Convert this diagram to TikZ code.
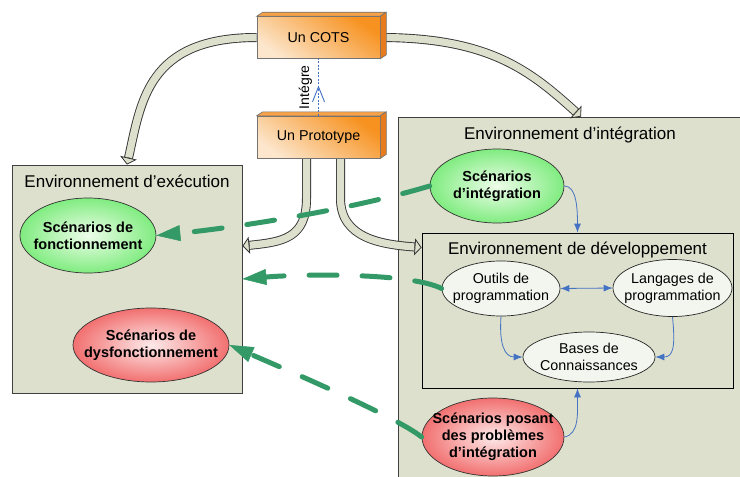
\documentclass[tikz,border=0pt]{standalone}
\usepackage{fontspec}
\setmainfont{Liberation Sans}
\usetikzlibrary{shapes.geometric,arrows.meta,positioning,backgrounds,decorations.markings}

\definecolor{envfill}{RGB}{221,224,204}
\definecolor{linkblue}{RGB}{68,114,196}
\definecolor{dashgreen}{RGB}{51,153,102}
\definecolor{greenedge}{RGB}{128,236,128}
\definecolor{greencentre}{RGB}{238,253,234}
\definecolor{rededge}{RGB}{242,112,112}
\definecolor{redcentre}{RGB}{253,234,234}
\definecolor{palefill}{RGB}{243,246,238}
\definecolor{orangedeep}{RGB}{247,146,32}
\definecolor{orangepale}{RGB}{252,230,204}
\definecolor{orangetop}{RGB}{248,162,72}
\definecolor{orangeside}{RGB}{230,124,30}

\tikzset{
  envbox/.style={draw=black!75, fill=envfill, line width=0.8pt},
  envtitle/.style={font=\fontsize{17}{20}\selectfont, inner sep=0pt},
  compbox/.style={draw=black!55, line width=0.6pt, bottom color=orangepale, top color=orangedeep,
    shading angle=-35, minimum width=123pt, minimum height=42pt, font=\fontsize{14.3}{17}\selectfont},
  scentext/.style={align=center, inner sep=0pt, font=\bfseries\fontsize{14.5}{17}\selectfont},
  tooltext/.style={align=center, inner sep=0pt, font=\fontsize{14.3}{17}\selectfont},
  goodscen/.style={ellipse, draw=black!80, line width=0.7pt, inner color=greencentre, outer color=greenedge},
  badscen/.style={ellipse, draw=black!80, line width=0.7pt, inner color=redcentre, outer color=rededge},
  tool/.style={ellipse, draw=black!85, line width=0.7pt, fill=palefill},
  blockarrow/.style={draw=black!80, line width=9pt,
    -{Triangle[length=7pt,width=17pt,line width=0.8pt,fill=envfill]},
    postaction={draw=envfill, line width=7.2pt, -, shorten >=7.4pt}},
  feedback/.style={dashgreen, line width=5pt, line cap=round, dash pattern=on 28pt off 25pt,
    -{Triangle[length=24pt,width=16pt,line width=0.5pt]}},
  link/.style={linkblue, line width=0.8pt, >={Latex[length=9pt,width=7pt]}, ->},
  intarrow/.style={linkblue, line width=1pt, dash pattern=on 2pt off 1.5pt,
    postaction={decorate}, decoration={markings,
      mark=at position 0.53 with {\arrow[solid]{Straight Barb[length=15pt,width=12pt,line width=0.9pt]}}}}
}

\begin{document}
\begin{tikzpicture}[x=1pt,y=-1pt]
\useasboundingbox (0,0) rectangle (740,477);

% les environnements
\begin{scope}[on background layer]
  \node[envbox, minimum width=230pt, minimum height=228pt] (exec) at (127,279) {};
  \node[envbox, minimum width=344pt, minimum height=363pt] (integ) at (570,298.5) {};
  \node[envbox, draw=black, minimum width=311pt, minimum height=155pt] (dev) at (577.5,310.5) {};
\end{scope}
\node[envtitle, below=10pt of exec.north] (exectitle) {Environnement d’exécution};
\node[envtitle, below=10pt of integ.north] (integtitle) {Environnement d’intégration};
\node[envtitle, below=9pt of dev.north] (devtitle) {Environnement de développement};

% COTS et prototype
\node[compbox] (cots) at (318.5,37.5) {Un COTS};
\node[compbox, below=57pt of cots] (proto) {Un Prototype};
\foreach \b in {cots,proto}{
  \filldraw[draw=black!55, line width=0.6pt, fill=orangetop] (\b.north west) -- ++(6,-4) -- ++(123,0) -- (\b.north east) -- cycle;
  \filldraw[draw=black!55, line width=0.6pt, fill=orangeside] (\b.north east) -- ++(6,-4) -- ++(0,42.6) -- (\b.south east) -- cycle;
}

% scenarios
\node[goodscen, minimum width=136pt, minimum height=75pt,
  label={[scentext]center:Scénarios de\\fonctionnement}] (fonc) at (88,235.5) {};
\node[badscen, minimum width=156pt, minimum height=74pt,
  label={[scentext]center:Scénarios de\\dysfonctionnement}] (dysf) at (151,345) {};
\node[goodscen, minimum width=134pt, minimum height=74pt,
  label={[scentext]center:Scénarios\\d’intégration}] (sdi) at (497,186) {};
\node[badscen, minimum width=142pt, minimum height=78pt,
  label={[scentext]center:Scénarios posant\\des problèmes\\d’intégration}] (sp) at (493,437) {};

% outils
\node[tool, minimum width=118pt, minimum height=55pt,
  label={[tooltext]center:Outils de\\programmation}] (outils) at (501,288.5) {};
\node[tool, minimum width=119pt, minimum height=57pt,
  label={[tooltext]center:Langages de\\programmation}] (lang) at (672.5,288) {};
\node[tool, minimum width=132pt, minimum height=50pt,
  label={[tooltext]center:Bases de\\Connaissances}] (bases) at (589,357) {};

% fleches larges
\begin{scope}[on background layer]
  \draw[blockarrow] (cots.west) .. controls +(-110,0) and +(14,-62) .. (exec.north);
  \draw[blockarrow] (cots.east) .. controls +(110,0) and +(-50,-45) .. ([xshift=11pt]integ.north);
  \draw[blockarrow] ([xshift=-12pt]proto.south) -- ++(0,40) .. controls +(0,40) and +(40,-4) .. ([yshift=33pt]exec.east);
  \draw[blockarrow] ([xshift=22pt]proto.south) -- ++(0,40) .. controls +(0,40) and +(-40,-3) .. ([yshift=63pt]dev.west);
\end{scope}

\draw[intarrow] (proto.north) -- (cots.south)
  node[midway, rotate=90, anchor=south, inner sep=6pt, text=black, font=\fontsize{14}{17}\selectfont] (integre) {Intégre};

% liens bleus
\draw[link, <->] (outils.east) -- (lang.west);
\draw[link] (outils.south) .. controls +(-2,28) and +(-18,0) .. (bases.west);
\draw[link] (lang.south) .. controls +(3,30) and +(18,0) .. (bases.east);
\draw[link] (sdi.east) .. controls +(12,0) and +(0,-25) .. (dev.north);
\draw[link] (sp.east) .. controls +(15,-3) and +(0,25) .. (dev.south);

% retours en tirets
\draw[feedback] (sdi.west) .. controls +(-80,24) and +(80,-8) .. (fonc.east);
\draw[feedback] (outils.west) .. controls +(-32,-16) and +(60,-5) .. (exec.east);
\draw[feedback] (sp.west) .. controls +(-25,-20) and +(60,26) .. (dysf.east);
\end{tikzpicture}
\end{document}
